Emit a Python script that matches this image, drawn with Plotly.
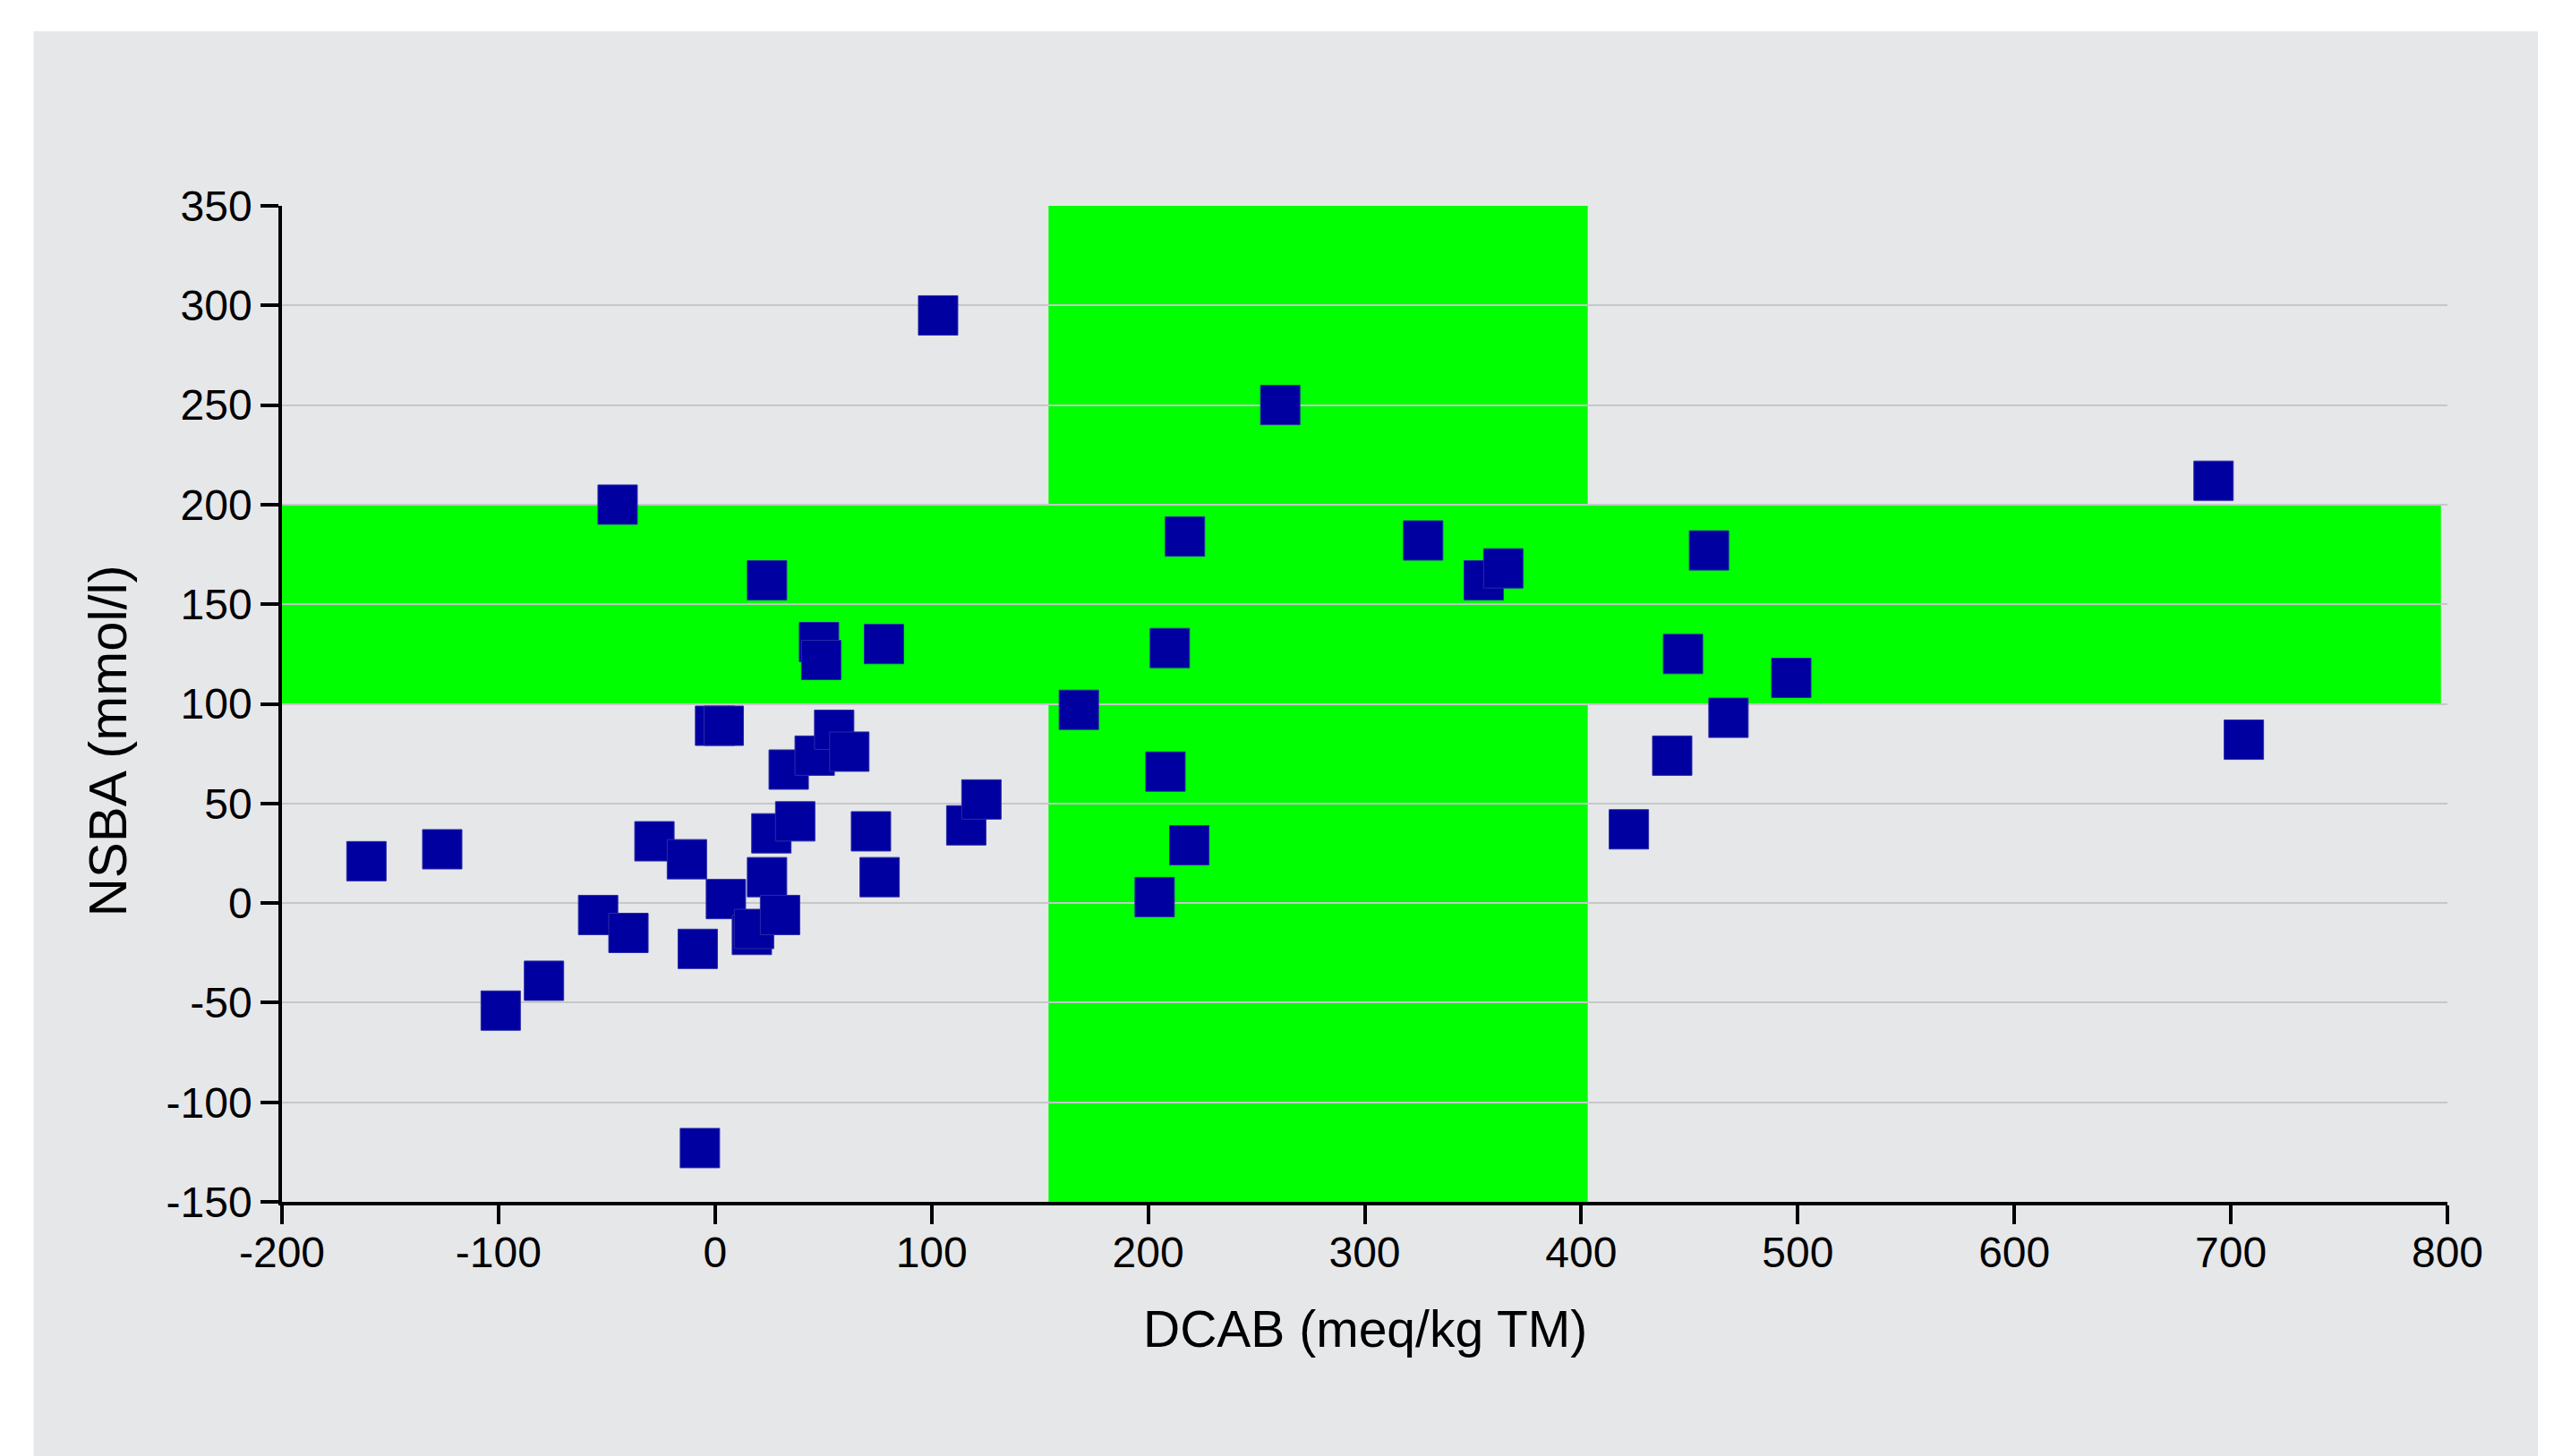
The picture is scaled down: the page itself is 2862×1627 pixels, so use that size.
import plotly.graph_objects as go

# Data
dcab = [-161, -126, -99, -79, -54, -45, -40, -28, -13, -8, -7, 0, 4, 5, 17, 18,
        24, 24, 26, 30, 34, 37, 46, 48, 49, 55, 62, 72, 76, 78, 103, 116, 123,
        168, 203, 208, 210, 217, 219, 261, 327, 355, 364, 422, 442, 447, 459,
        468, 497, 692, 706]
nsba = [21, 27, -54, -39, -6, 200, -15, 31, 22, -23, -123, 89, 89, 2, -16, -13,
        13, 162, 35, -6, 67, 41, 74, 131, 122, 87, 76, 36, 13, 130, 295, 39, 52,
        97, 3, 66, 128, 184, 29, 250, 182, 162, 168, 37, 74, 125, 177,
        93, 113, 212, 82]

# Target ranges (green bands)
dcab_band = [154, 403]
nsba_band = [100, 200]

x_range = [-200, 800]
y_range = [-150, 350]
x_ticks = [-200, -100, 0, 100, 200, 300, 400, 500, 600, 700, 800]
y_ticks = [-150, -100, -50, 0, 50, 100, 150, 200, 250, 300, 350]

OFF = 8  # default page body margin
W, H = 2862 - OFF, 1627 - OFF
ML, MT = 314.5 - OFF, 230 - OFF
PLOT_R, PLOT_B = 2734 - OFF, 1343 - OFF
MR, MB = W - PLOT_R, H - PLOT_B
PW = PLOT_R - ML
PH = PLOT_B - MT

def px_x(p):
    return (p - OFF - ML) / PW

def px_y(p):
    return (PLOT_B - (p - OFF)) / PH

GREEN = "#00FF00"
GRAY = "#e6e7e9"

fig = go.Figure()
fig.add_trace(go.Scatter(
    x=dcab, y=nsba, mode="markers",
    marker=dict(symbol="square", size=44, color="#0000A0",
                line=dict(width=1, color="#2a2aa8")),
    showlegend=False, hoverinfo="x+y",
))

shapes = [
    # grey background panel
    dict(type="rect", xref="paper", yref="paper",
         x0=px_x(37), x1=px_x(2835), y0=px_y(1640), y1=px_y(35),
         fillcolor=GRAY, line=dict(width=0), layer="below"),
    # vertical band (DCAB target)
    dict(type="rect", xref="x", yref="y",
         x0=dcab_band[0], x1=dcab_band[1], y0=y_range[0], y1=y_range[1],
         fillcolor=GREEN, line=dict(width=0), layer="below"),
    # horizontal band (NSBA target)
    dict(type="rect", xref="x", yref="y",
         x0=x_range[0], x1=797, y0=nsba_band[0], y1=nsba_band[1],
         fillcolor=GREEN, line=dict(width=0), layer="below"),
]

FONT = "Liberation Sans, Arial, sans-serif"

fig.update_layout(
    width=W, height=H,
    margin=dict(l=ML, r=MR, t=MT, b=MB, pad=0),
    paper_bgcolor="white",
    plot_bgcolor=GRAY,
    font=dict(family=FONT, color="black", size=48),
    shapes=shapes,
    annotations=[
        dict(text="DCAB (meq/kg TM)", xref="paper", yref="paper",
             x=0.5, y=px_y(1485), xanchor="center", yanchor="middle",
             showarrow=False, font=dict(size=57, family=FONT, color="black")),
        dict(text="NSBA (mmol/l)", xref="paper", yref="paper",
             x=px_x(119), y=px_y(828), xanchor="center", yanchor="middle",
             textangle=-90, showarrow=False,
             font=dict(size=60, family=FONT, color="black")),
    ],
    xaxis=dict(
        range=x_range, tickvals=x_ticks, ticktext=[str(v) for v in x_ticks],
        showgrid=False, zeroline=False,
        showline=True, linecolor="black", linewidth=4,
        ticks="outside", ticklen=21, tickwidth=3.5, tickcolor="black",
        tickfont=dict(size=48, family=FONT, color="black"),
        ticklabelstandoff=-10,
    ),
    yaxis=dict(
        range=y_range, tickvals=y_ticks, ticktext=[str(v) for v in y_ticks],
        showgrid=True, gridcolor="#c6c7c9", gridwidth=2,
        zeroline=False,
        showline=True, linecolor="black", linewidth=3.5,
        ticks="outside", ticklen=20, tickwidth=3.5, tickcolor="black",
        tickfont=dict(size=48, family=FONT, color="black"),
        ticklabelstandoff=0,
    ),
)

fig.write_html("out.html")
